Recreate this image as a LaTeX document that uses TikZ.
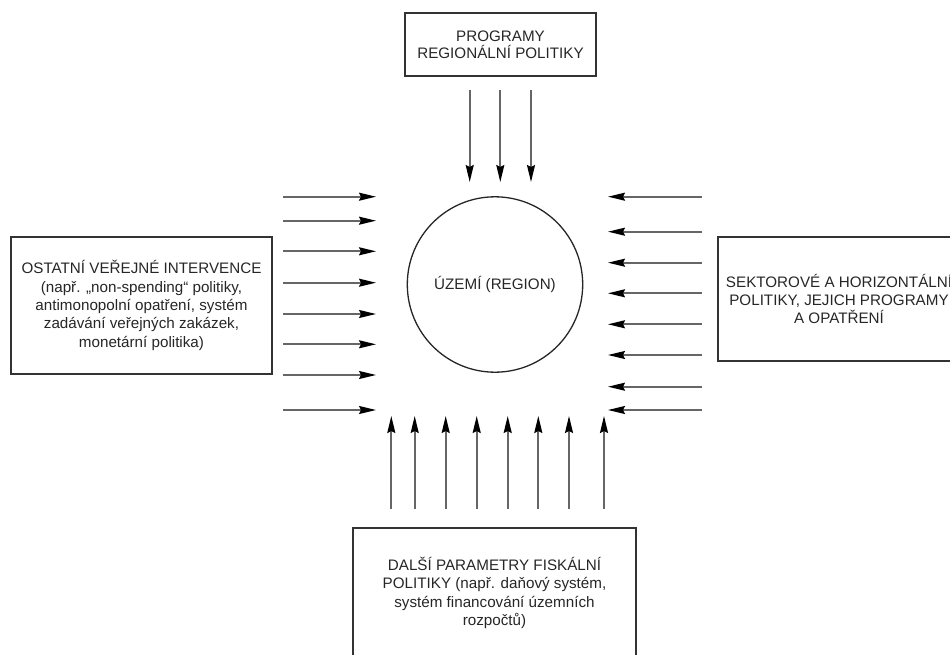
\documentclass[tikz,border=0pt]{standalone}
\usepackage{fontspec}
\setmainfont{Liberation Sans}
\usetikzlibrary{arrows.meta}
\begin{document}
\begin{tikzpicture}[x=1pt,y=-1pt,
  box/.style={draw=black!80, line width=1.3pt, inner sep=0pt, align=center,
    font=\fontsize{15.2}{18.3}\selectfont, text=black!85},
  arr/.style={draw=black!60, line width=1.8pt,
    -{Stealth[length=17pt,width=8pt,inset=2pt,color=black]}}]
\useasboundingbox (0,0) rectangle (950,655);

% nodes
\node[box, minimum width=191pt, minimum height=63pt,
  font=\fontsize{15.2}{16.8}\selectfont] (top) at (500.5,44.5)
  {PROGRAMY\\REGIONÁLNÍ POLITIKY};
\node[draw=black!85, line width=1.3pt, circle, minimum size=175.4pt, inner sep=0pt,
  font=\fontsize{15.2}{18.3}\selectfont, text=black!85] (reg) at (495,284.5)
  {ÚZEMÍ (REGION)};
\node[box, minimum width=261pt, minimum height=137pt] (left) at (141.5,305.5)
  {OSTATNÍ VEŘEJNÉ INTERVENCE\\(např. „non-spending“ politiky,\\antimonopolní opatření, systém\\zadávání veřejných zakázek,\\monetární politika)};
\node[box, minimum width=242pt, minimum height=124pt] (right) at (839,299)
  {SEKTOROVÉ A HORIZONTÁLNÍ\\POLITIKY, JEJICH PROGRAMY\\A OPATŘENÍ};
\node[box, minimum width=283pt, minimum height=130pt] (bottom) at (494.5,593)
  {DALŠÍ PARAMETRY FISKÁLNÍ\\POLITIKY (např. daňový systém,\\systém financování územních\\rozpočtů)};

% top arrows
\foreach \i/\x in {1/469.7,2/500.3,3/531}{
  \coordinate (t\i a) at (\x,90);
  \coordinate (t\i b) at (\x,182);
  \draw[arr] (t\i a) -- (t\i b);
}
% left arrows
\foreach \i/\y in {1/196.7,2/220.7,3/251.3,4/282.7,5/314,6/344.3,7/375,8/410}{
  \coordinate (l\i a) at (283,\y);
  \coordinate (l\i b) at (376,\y);
  \draw[arr] (l\i a) -- (l\i b);
}
% right arrows
\foreach \i/\y in {1/196.7,2/231.7,3/262.7,4/293.3,5/324.3,6/355,7/386.7,8/410}{
  \coordinate (r\i a) at (702,\y);
  \coordinate (r\i b) at (608,\y);
  \draw[arr] (r\i a) -- (r\i b);
}
% bottom arrows
\foreach \i/\x in {1/391.3,2/414.7,3/445.7,4/476.7,5/507.7,6/538.3,7/569,8/604}{
  \coordinate (b\i a) at (\x,509);
  \coordinate (b\i b) at (\x,416);
  \draw[arr] (b\i a) -- (b\i b);
}
\end{tikzpicture}
\end{document}
